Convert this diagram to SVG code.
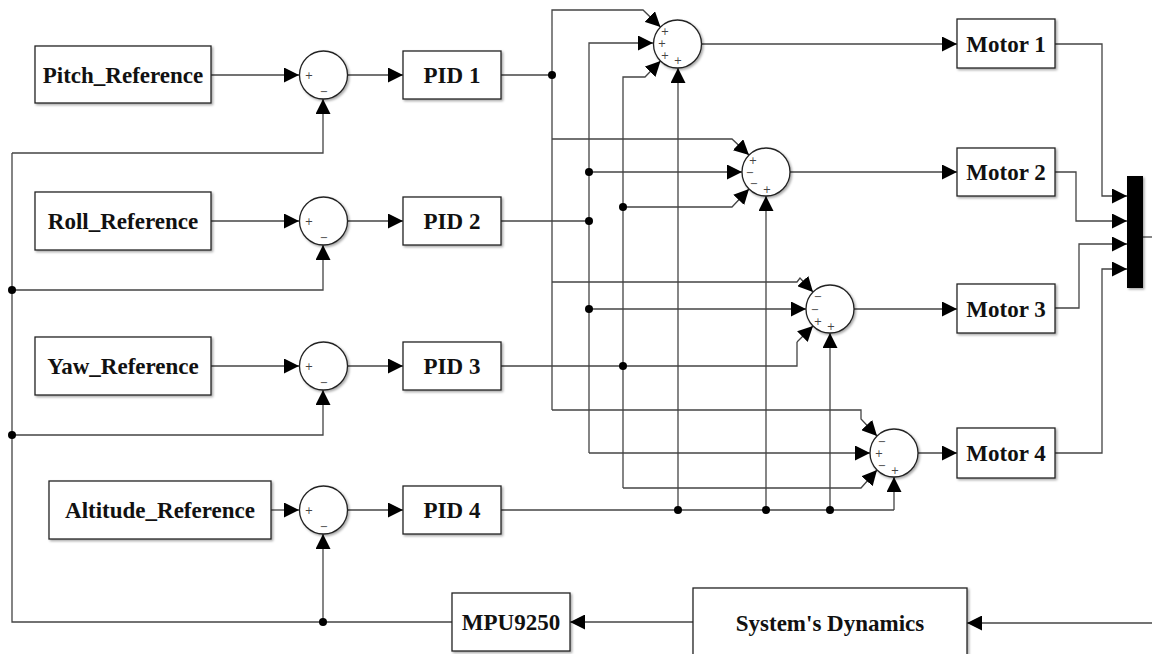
<svg xmlns="http://www.w3.org/2000/svg" width="1152" height="654" viewBox="0 0 1152 654">
<defs>
<marker id="ah" markerUnits="userSpaceOnUse" markerWidth="15" markerHeight="15" viewBox="0 0 12 12" refX="12" refY="6" orient="auto">
<path d="M0,0 L12,6 L0,12 Z" fill="#000"/>
</marker>
<filter id="sh" x="-10%" y="-10%" width="130%" height="140%">
<feDropShadow dx="1.5" dy="1.5" stdDeviation="1.2" flood-color="#000" flood-opacity="0.35"/>
</filter>
</defs>
<style>
.box{fill:#fff;stroke:#222;stroke-width:1.3;filter:url(#sh)}
.sum{fill:#fff;stroke:#222;stroke-width:1.3;filter:url(#sh)}
.lbl{font-family:"Liberation Serif","Times New Roman",serif;font-weight:bold;font-size:23px;fill:#111;text-anchor:middle;dominant-baseline:central}
.sg{font-family:"DejaVu Sans","Liberation Sans",sans-serif;font-size:10px;fill:#444;text-anchor:middle;dominant-baseline:central}
.w{fill:none;stroke:#444;stroke-width:1.3}
.a{marker-end:url(#ah)}
.dot{fill:#000}
</style>
<g id="connectors">
<path class="w a" d="M211,75 H299"/>
<path class="w a" d="M211,221 H299"/>
<path class="w a" d="M211,366 H299"/>
<path class="w a" d="M271,510 H299"/>
<path class="w a" d="M348,75 H403"/>
<path class="w a" d="M348,221 H403"/>
<path class="w a" d="M348,366 H403"/>
<path class="w a" d="M348,510 H403"/>
<path class="w a" d="M12,153 H323 V99"/>
<path class="w a" d="M12,290 H323 V245"/>
<path class="w a" d="M12,435 H323 V390"/>
<path class="w a" d="M323,622 V534"/>
<path class="w" d="M12,153 V622 H452"/>
<path class="w a" d="M693,622 H570"/>
<path class="w a" d="M1152,623 H967"/>
<path class="w" d="M501,75 H552"/>
<path class="w" d="M501,221 H589"/>
<path class="w" d="M501,366 H797 V342"/>
<path class="w" d="M501,510 H894"/>
<path class="w a" d="M552,410 V10 H643 L660.5,27"/>
<path class="w a" d="M552,139 H732 L749,155"/>
<path class="w a" d="M552,282 H797 L800,278 L813,292"/>
<path class="w a" d="M552,410 H861 V419 L877,436"/>
<path class="w a" d="M589,453 V43 H653"/>
<path class="w a" d="M589,172 H742"/>
<path class="w a" d="M589,309 H806"/>
<path class="w a" d="M589,453 H870"/>
<path class="w a" d="M623,488 V77 H645 L660.5,61"/>
<path class="w a" d="M623,207 H732 L749,189"/>
<path class="w a" d="M797,342 L813,326"/>
<path class="w a" d="M623,488 H861 L877,470"/>
<path class="w a" d="M678,510 V68"/>
<path class="w a" d="M766,510 V196"/>
<path class="w a" d="M830,510 V333"/>
<path class="w a" d="M894,510 V477"/>
<path class="w a" d="M702,44 H957"/>
<path class="w a" d="M790,172 H957"/>
<path class="w a" d="M854,309 H957"/>
<path class="w a" d="M918,453 H957"/>
<path class="w a" d="M1055,44 H1102 V196 H1127"/>
<path class="w a" d="M1055,172 H1076 V221 H1127"/>
<path class="w a" d="M1055,308 H1079 V244 H1127"/>
<path class="w a" d="M1055,453 H1102 V269 H1127"/>
<path class="w" d="M1143,237 H1152"/>
<circle class="dot" cx="12" cy="290" r="4"/>
<circle class="dot" cx="12" cy="435" r="4"/>
<circle class="dot" cx="323" cy="622" r="4"/>
<circle class="dot" cx="552" cy="75" r="4"/>
<circle class="dot" cx="589" cy="172" r="4"/>
<circle class="dot" cx="589" cy="221" r="4"/>
<circle class="dot" cx="589" cy="309" r="4"/>
<circle class="dot" cx="623" cy="207" r="4"/>
<circle class="dot" cx="623" cy="366" r="4"/>
<circle class="dot" cx="678" cy="510" r="4"/>
<circle class="dot" cx="766" cy="510" r="4"/>
<circle class="dot" cx="830" cy="510" r="4"/>
</g>
<g id="pitch_ref"><rect class="box" x="35" y="46" width="176" height="57"/><text class="lbl" x="123" y="75">Pitch_Reference</text></g>
<g id="roll_ref"><rect class="box" x="35" y="192" width="176" height="58"/><text class="lbl" x="123" y="221">Roll_Reference</text></g>
<g id="yaw_ref"><rect class="box" x="35" y="337" width="176" height="58"/><text class="lbl" x="123" y="366">Yaw_Reference</text></g>
<g id="alt_ref"><rect class="box" x="49" y="481" width="222" height="58"/><text class="lbl" x="160" y="510">Altitude_Reference</text></g>
<g id="sum_pitch"><circle class="sum" cx="323.5" cy="75" r="24"/><text class="sg" x="309" y="75">+</text><text class="sg" x="324" y="91">−</text></g>
<g id="sum_roll"><circle class="sum" cx="323.5" cy="221" r="24"/><text class="sg" x="309" y="221">+</text><text class="sg" x="324" y="237">−</text></g>
<g id="sum_yaw"><circle class="sum" cx="323.5" cy="366" r="24"/><text class="sg" x="309" y="366">+</text><text class="sg" x="324" y="382">−</text></g>
<g id="sum_alt"><circle class="sum" cx="323.5" cy="510" r="24"/><text class="sg" x="309" y="510">+</text><text class="sg" x="324" y="526">−</text></g>
<g id="pid1"><rect class="box" x="403" y="51" width="98" height="48"/><text class="lbl" x="452" y="75">PID 1</text></g>
<g id="pid2"><rect class="box" x="403" y="197" width="98" height="48"/><text class="lbl" x="452" y="221">PID 2</text></g>
<g id="pid3"><rect class="box" x="403" y="342" width="98" height="48"/><text class="lbl" x="452" y="366">PID 3</text></g>
<g id="pid4"><rect class="box" x="403" y="486" width="98" height="48"/><text class="lbl" x="452" y="510">PID 4</text></g>
<g id="sum_m1"><circle class="sum" cx="677.5" cy="44" r="24"/><text class="sg" x="665" y="31">+</text><text class="sg" x="662" y="43">+</text><text class="sg" x="665" y="55">+</text><text class="sg" x="678" y="60">+</text></g>
<g id="sum_m2"><circle class="sum" cx="766" cy="172" r="24"/><text class="sg" x="753" y="160">+</text><text class="sg" x="750" y="172">−</text><text class="sg" x="754" y="183">−</text><text class="sg" x="767" y="189">+</text></g>
<g id="sum_m3"><circle class="sum" cx="830" cy="309" r="24"/><text class="sg" x="818" y="296">−</text><text class="sg" x="815" y="309">−</text><text class="sg" x="818" y="321">+</text><text class="sg" x="831" y="326">+</text></g>
<g id="sum_m4"><circle class="sum" cx="894" cy="453" r="24"/><text class="sg" x="882" y="441">−</text><text class="sg" x="879" y="453">+</text><text class="sg" x="882" y="465">−</text><text class="sg" x="895" y="470">+</text></g>
<g id="motor1"><rect class="box" x="957" y="19" width="98" height="49"/><text class="lbl" x="1006" y="44">Motor 1</text></g>
<g id="motor2"><rect class="box" x="957" y="148" width="98" height="48"/><text class="lbl" x="1006" y="172">Motor 2</text></g>
<g id="motor3"><rect class="box" x="957" y="284" width="98" height="49"/><text class="lbl" x="1006" y="309">Motor 3</text></g>
<g id="motor4"><rect class="box" x="957" y="428" width="98" height="50"/><text class="lbl" x="1006" y="453">Motor 4</text></g>
<g id="mux"><rect x="1127" y="176" width="16" height="112" fill="#000" filter="url(#sh)"/></g>
<g id="mpu"><rect class="box" x="452" y="593" width="118" height="58"/><text class="lbl" x="511" y="622">MPU9250</text></g>
<g id="sysdyn"><rect class="box" x="693" y="588" width="274" height="72"/><text class="lbl" x="830" y="623">System's Dynamics</text></g>
</svg>
